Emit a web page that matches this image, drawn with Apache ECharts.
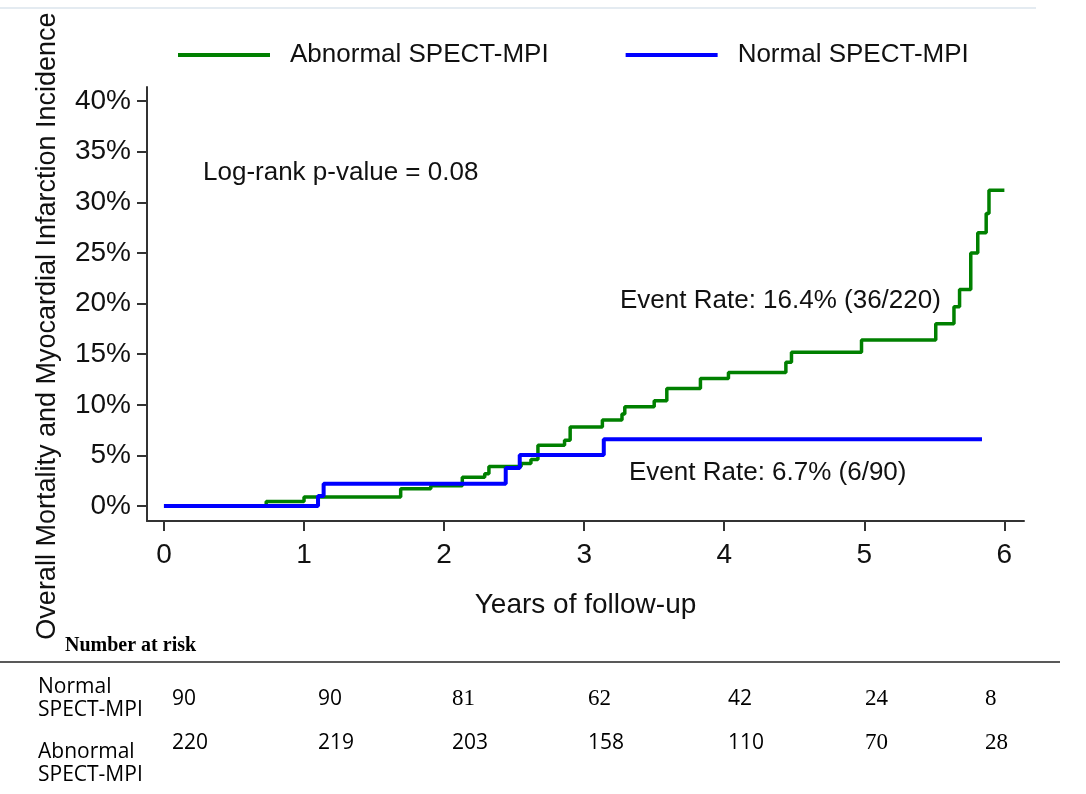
<!DOCTYPE html>
<html><head><meta charset="utf-8">
<script src="https://cdn.jsdelivr.net/npm/echarts@6/dist/echarts.min.js"></script>
<style>html,body{margin:0;padding:0;background:#fff}#c{width:1086px;height:794px}</style>
</head><body><div id="c"></div>
<script>
// ---------- data ----------
const seriesNames = ['Abnormal SPECT-MPI', 'Normal SPECT-MPI'];
const abnormalYears = [0, 0.73, 1.0, 1.69, 1.905, 2.13, 2.29, 2.32, 2.55, 2.62, 2.67, 2.86, 2.9, 3.13, 3.27, 3.29, 3.5, 3.59, 3.83, 4.03, 4.44, 4.48, 4.98, 5.51, 5.64, 5.68, 5.76, 5.81, 5.87, 5.89, 6.0];
const abnormalIncidence = [0, 0.45, 0.9, 1.7, 2.0, 2.85, 3.2, 3.9, 4.2, 4.6, 6.0, 6.5, 7.8, 8.5, 9.1, 9.8, 10.4, 11.6, 12.6, 13.2, 14.2, 15.2, 16.4, 18.0, 19.7, 21.4, 25.0, 27.0, 28.9, 31.2, 31.2];
const normalYears = [0, 1.10, 1.14, 2.44, 2.54, 3.14, 5.84];
const normalIncidence = [0, 1.0, 2.2, 3.75, 5.05, 6.6, 6.6];
const xTicks = [0, 1, 2, 3, 4, 5, 6];
const yTicks = [0, 5, 10, 15, 20, 25, 30, 35, 40];
const xAxisTitle = 'Years of follow-up';
const yAxisTitle = 'Overall Mortality and Myocardial Infarction Incidence';
const pValueText = 'Log-rank p-value = 0.08';
const eventRateAbnormal = 'Event Rate: 16.4% (36/220)';
const eventRateNormal = 'Event Rate: 6.7% (6/90)';
const riskTitle = 'Number at risk';
const riskRowLabels = ['Normal\nSPECT-MPI', 'Abnormal\nSPECT-MPI'];
const riskNormal = [90, 90, 81, 62, 42, 24, 8];
const riskAbnormal = [220, 219, 203, 158, 110, 70, 28];

// ---------- layout / style ----------
const SANS = 'Liberation Sans, Arial, sans-serif';
const riskColX = [172, 318, 452, 588, 728, 865, 985];
const riskRowY = [699, 743];
const riskLabelY = [699, 764];
const riskSerif = [[0, 0, 1, 1, 0, 1, 1], [0, 0, 0, 0, 0, 1, 1]];

const zip = (a, b) => a.map((v, i) => [v, b[i]]);

const graphics = [
  { type: 'line', shape: { x1: 0, y1: 8, x2: 1036, y2: 8 }, style: { stroke: '#e4ebf1', lineWidth: 2 } },
  { type: 'text', x: 48, y: 326, rotation: Math.PI / 2,
    style: { text: yAxisTitle, font: '27px ' + SANS, fill: '#111', textAlign: 'center', textVerticalAlign: 'middle' } },
  { type: 'text', x: 203, y: 173, style: { text: pValueText, font: '26px ' + SANS, fill: '#111', textVerticalAlign: 'middle' } },
  { type: 'text', x: 620, y: 301, style: { text: eventRateAbnormal, font: '26px ' + SANS, fill: '#111', textVerticalAlign: 'middle' } },
  { type: 'text', x: 629, y: 473, style: { text: eventRateNormal, font: '26px ' + SANS, fill: '#111', textVerticalAlign: 'middle' } },
  { type: 'text', x: 65, y: 646, style: { text: riskTitle, font: 'bold 20px Liberation Serif, serif', fill: '#000', textVerticalAlign: 'middle' } },
  { type: 'line', shape: { x1: 0, y1: 662, x2: 1060, y2: 662 }, style: { stroke: '#222', lineWidth: 1.5 } }
];
riskRowLabels.forEach((lab, r) => {
  graphics.push({ type: 'text', x: 38, y: riskLabelY[r],
    style: { text: lab, font: '21px Open Sans, sans-serif', lineHeight: 23, fill: '#000', textVerticalAlign: 'middle' } });
});
[riskNormal, riskAbnormal].forEach((row, r) => {
  row.forEach((v, c) => {
    const serif = riskSerif[r][c];
    graphics.push({ type: 'text', x: riskColX[c], y: riskRowY[r],
      style: { text: String(v), font: serif ? '23px Liberation Serif, serif' : '21px Open Sans, sans-serif', fill: '#000', textVerticalAlign: 'middle' } });
  });
});

const chart = echarts.init(document.getElementById('c'), null, { renderer: 'canvas' });
chart.setOption({
  backgroundColor: '#fff',
  animation: false,
  textStyle: { fontFamily: SANS },
  grid: { left: 147, right: 62, top: 87, bottom: 273 },
  legend: {
    data: seriesNames, left: 178, top: 42, padding: 0, icon: 'rect', itemWidth: 92, itemHeight: 4, itemGap: 77,
    textStyle: { fontSize: 26, color: '#111', fontFamily: SANS, padding: [0, 0, 0, 15] }
  },
  xAxis: {
    type: 'value', min: -0.121, max: 6.14,
    name: xAxisTitle, nameLocation: 'middle', nameGap: 70,
    nameTextStyle: { fontSize: 28, color: '#111', fontFamily: SANS },
    axisLine: { show: true, onZero: false, lineStyle: { color: '#333', width: 2 } },
    axisTick: { show: true, customValues: xTicks, length: 10, lineStyle: { color: '#333', width: 2 } },
    axisLabel: { customValues: xTicks, fontSize: 28, color: '#111', margin: 20, fontFamily: SANS },
    splitLine: { show: false }
  },
  yAxis: {
    type: 'value', min: -1.48, max: 41.4,
    axisLine: { show: true, onZero: false, lineStyle: { color: '#333', width: 2 } },
    axisTick: { show: true, customValues: yTicks, length: 10, lineStyle: { color: '#333', width: 2 } },
    axisLabel: { customValues: yTicks, fontSize: 28, color: '#111', margin: 16, formatter: '{value}%', fontFamily: SANS },
    splitLine: { show: false }
  },
  series: [
    { name: seriesNames[0], type: 'line', step: 'end', showSymbol: false, color: '#008000',
      lineStyle: { width: 3.5, color: '#008000' }, data: zip(abnormalYears, abnormalIncidence) },
    { name: seriesNames[1], type: 'line', step: 'end', showSymbol: false, color: '#0000ff',
      lineStyle: { width: 4, color: '#0000ff' }, data: zip(normalYears, normalIncidence) }
  ],
  graphic: graphics
});
</script></body></html>
